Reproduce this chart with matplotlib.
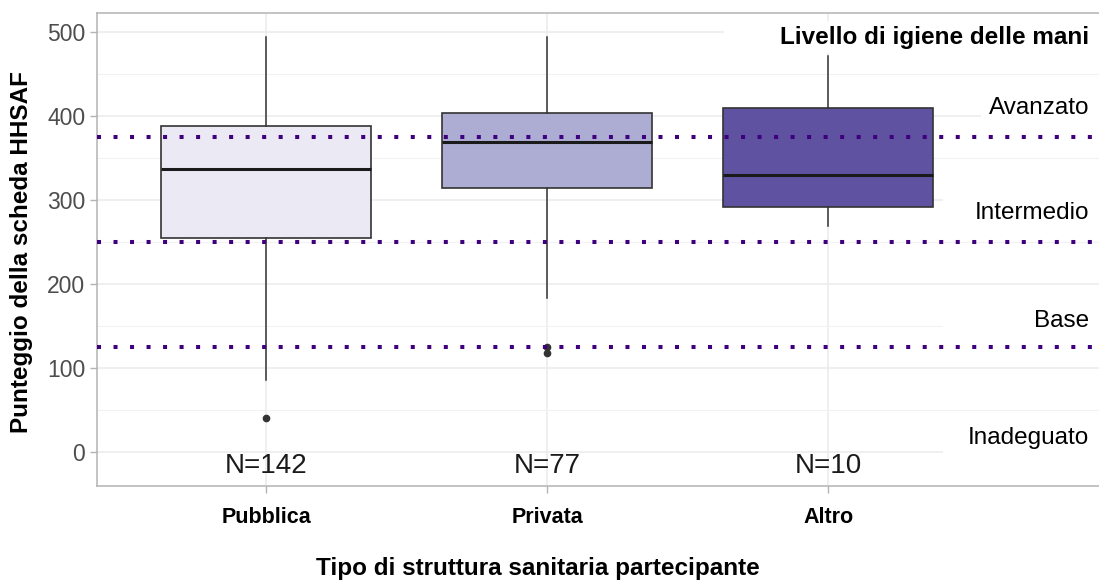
import matplotlib
matplotlib.use("Agg")
import matplotlib.pyplot as plt
from matplotlib.patches import Rectangle

plt.rcParams['font.family'] = ['Liberation Sans', 'DejaVu Sans']

# --- dati ---
categorie = ['Pubblica', 'Privata', 'Altro']
n_labels = ['N=142', 'N=77', 'N=10']
q1 = [255, 314, 292]
mediane = [337, 369, 330]
q3 = [388, 404, 409]
baffo_min = [86, 183, 269]
baffo_max = [494, 494, 472]
outlier = [[40], [125, 118], []]
colori = ['#ebe9f3', '#adadd4', '#5f52a0']

soglie = [125, 250, 375]
livelli = ['Livello di igiene delle mani', 'Avanzato', 'Intermedio', 'Base', 'Inadeguato']
livelli_y = [494, 410, 285, 156, 17]
livelli_bold = [True, False, False, False, False]
# bordo sinistro dello sfondo bianco delle etichette (unità dati)
livelli_sfondo_x = [2.63, 3.545, 3.41, 3.41, 3.41]

fig = plt.figure(figsize=(10.99, 5.83), dpi=100)
ax = fig.add_axes([97 / 1099, 97 / 583, 1 - 97 / 1099, 473 / 583])

pos = [1, 2, 3]
stats = []
for i in range(len(categorie)):
    stats.append({'q1': q1[i], 'med': mediane[i], 'q3': q3[i],
                  'whislo': baffo_min[i], 'whishi': baffo_max[i],
                  'fliers': outlier[i], 'label': categorie[i]})

bp = ax.bxp(stats, positions=pos, widths=0.75, patch_artist=True,
            showcaps=False, manage_ticks=False,
            boxprops=dict(edgecolor='#333333', linewidth=1.2),
            medianprops=dict(color='#1a1a1a', linewidth=2.2),
            whiskerprops=dict(color='#333333', linewidth=1.1),
            flierprops=dict(marker='o', markerfacecolor='#333333',
                            markeredgecolor='#333333', markersize=4.5))
for patch, c in zip(bp['boxes'], colori):
    patch.set_facecolor(c)
for k in ['boxes', 'medians', 'whiskers', 'fliers']:
    for art in bp[k]:
        art.set_zorder(3)

# linee soglia tratteggiate
for s in soglie:
    ax.axhline(s, color='#3f007d', linewidth=2.9, linestyle=(0, (1, 3.1)),
               dash_capstyle='butt', zorder=4)

# etichette dei livelli con sfondo bianco
for testo, y, b, x0 in zip(livelli, livelli_y, livelli_bold, livelli_sfondo_x):
    ax.add_patch(Rectangle((x0, y - 19), 5, 38, facecolor='white',
                           edgecolor='none', zorder=1))
    ax.text(3.93, y, testo, ha='right', va='center', fontsize=17.5,
            fontweight='bold' if b else 'normal', color='black', zorder=5)

# etichette N
for p, t in zip(pos, n_labels):
    ax.text(p, -17, t, ha='center', va='center', fontsize=20,
            color='#1a1a1a', zorder=5)

ax.set_xlim(0.3986, 3.964)
ax.set_ylim(-40.5, 522.6)
ax.set_yticks([0, 100, 200, 300, 400, 500])
ax.set_yticks([50, 150, 250, 350, 450], minor=True)
ax.set_xticks(pos)
ax.set_xticklabels(categorie, fontsize=15.5, fontweight='bold', color='black')
ax.tick_params(axis='y', labelsize=16.5, labelcolor='#4d4d4d', color='#b3b3b3',
               length=5, width=1)
ax.tick_params(axis='y', which='minor', length=0)
ax.tick_params(axis='x', color='#b3b3b3', length=5, width=1, pad=10)

ax.set_axisbelow(True)
ax.grid(True, which='major', color='#ebebeb', linewidth=1.1)
ax.grid(True, which='minor', axis='y', color='#f2f2f2', linewidth=0.8)

for lato in ['left', 'top', 'bottom']:
    ax.spines[lato].set_color('#b3b3b3')
    ax.spines[lato].set_linewidth(1.1)
ax.spines['right'].set_visible(False)

fig.text(22 / 1099, 1 - 252 / 583, 'Punteggio della scheda HHSAF', rotation=90,
         ha='center', va='center', fontsize=17.5, fontweight='bold')
fig.text(538 / 1099, 1 - 569 / 583, 'Tipo di struttura sanitaria partecipante',
         ha='center', va='center', fontsize=17.5, fontweight='bold')

fig.savefig('out.png', dpi=100)
